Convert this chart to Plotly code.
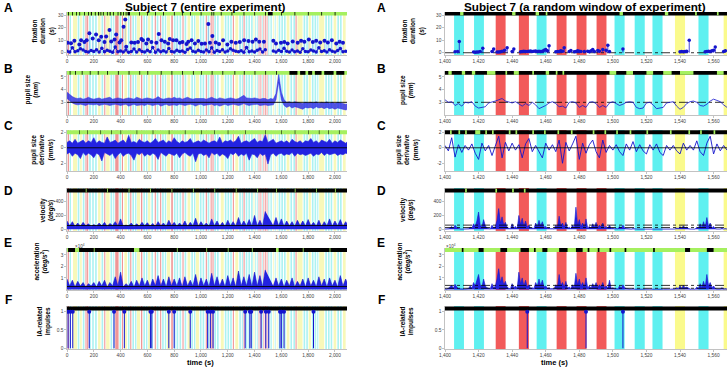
import plotly.graph_objects as go

# ---------------- data ----------------
T_L = list(range(0, 2101, 20))      # sample times, entire experiment (s)
T_R = list(range(1400, 1569, 2))    # sample times, random window (s)
T_R1 = list(range(1400, 1569))      # 1-s sample times, random window (s)

BAND_START = [5, 20, 45, 80, 98, 118, 138, 150, 165, 188, 210, 232, 258, 278, 292, 325, 345, 360, 392, 410,
              428, 455, 472, 488, 508, 522, 552, 570, 590, 605, 630, 655, 670, 695, 710, 730, 745, 778, 798, 818,
              840, 862, 878, 900, 928, 948, 962, 992, 1012, 1036, 1050, 1072, 1086, 1100, 1120, 1148, 1178, 1198, 1218, 1238,
              1256, 1286, 1305, 1318, 1334, 1354, 1374, 1392, 1405.4, 1417.3, 1430.2, 1444, 1454.6, 1466.5, 1478.4, 1490.3, 1501, 1513, 1523.6, 1537,
              1551, 1566, 1580, 1600, 1620, 1640, 1668, 1690, 1706, 1720, 1766, 1786, 1804, 1828, 1848, 1868, 1882, 1928, 1948, 1968,
              1990, 2018, 2038, 2060]
BAND_END = [15, 30, 75, 92, 110, 130, 146, 158, 178, 200, 222, 250, 270, 286, 318, 337, 353, 385, 404, 418,
            448, 466, 480, 500, 518, 545, 562, 582, 600, 622, 642, 663, 682, 703, 722, 740, 770, 790, 810, 830,
            852, 870, 890, 920, 940, 958, 985, 1004, 1024, 1044, 1062, 1080, 1094, 1112, 1132, 1170, 1190, 1210, 1230, 1246,
            1278, 1298, 1313, 1326, 1346, 1366, 1386, 1399, 1411.3, 1423.2, 1436.1, 1450, 1460.5, 1472.4, 1484.3, 1496.2, 1507, 1519, 1529.6, 1543,
            1557, 1572, 1592, 1612, 1632, 1660, 1680, 1702, 1714, 1758, 1778, 1798, 1820, 1840, 1860, 1876, 1920, 1940, 1960, 1980,
            2010, 2030, 2050, 2080]
BAND_KIND = ["r", "c", "y", "c", "y", "c", "r", "r", "c", "c", "c", "y", "c", "r", "y", "c", "c", "r", "c", "r",
             "y", "c", "r", "c", "c", "y", "r", "c", "c", "y", "c", "r", "c", "r", "c", "c", "y", "r", "c", "c",
             "c", "r", "c", "y", "c", "c", "y", "c", "c", "r", "c", "r", "r", "c", "c", "y", "c", "c", "c", "r",
             "y", "c", "c", "r", "c", "c", "c", "y", "c", "c", "r", "r", "c", "r", "r", "r", "c", "c", "c", "y",
             "c", "y", "c", "c", "c", "y", "c", "c", "r", "y", "c", "c", "y", "c", "c", "c", "y", "c", "c", "c",
             "y", "c", "c", "y"]

# A: fixation duration (s)
LA_LOW = [1.2, 0.5, 4.0, 0.8, 1.5, 3.2, 2.2, 1.0, 0.6, 1.8,
          0.9, 2.4, 0.5, 3.5, 0.7, 2.0, 1.1, 0.4, 4.5, 0.8,
          1.4, 0.5, 2.1, 0.3, 0.9, 3.0, 0.5, 2.3, 1.0, 0.6,
          1.9, 0.8, 4.2, 0.4, 2.2, 0.7, 1.5, 0.5, 3.4, 1.0,
          0.6, 2.0, 0.9, 1.4, 0.4, 2.5, 3.8, 1.2, 0.5, 1.9,
          1.0, 0.6, 2.1, 0.7, 4.0, 0.4, 1.8, 0.9, 2.3, 0.6,
          1.3, 3.2, 2.0, 1.1, 0.7, 1.6, 0.4, 4.1, 0.8, 1.4,
          0.5, 1.9, 3.0, 0.6, 2.4, None, None, 1.3, 0.6, 2.0,
          0.9, 3.6, 1.2, 0.5, 2.2, 0.8, 1.4, 0.4, 3.1, 1.0,
          0.7, 2.1, 1.3, 0.5, 4.0, 0.9, 1.6, 0.6, 2.4, 1.1,
          0.5, 1.8, 3.3, 0.8, 1.2, 0.6]
LA_HI_T = [5, 30, 55, 92, 105, 130, 147, 167, 192, 217, 237, 255, 280, 292, 317, 330, 355, 367, 392, 405,
           422, 435, 442, 480, 505, 530, 555, 567, 592, 605, 630, 667, 685, 705, 730, 755, 767, 792, 817, 842,
           862, 892, 905, 930, 955, 980, 1005, 1030, 1055, 1067, 1085, 1110, 1135, 1165, 1197, 1227, 1260, 1290, 1322, 1355,
           1385, 1410, 1435, 1470, 1540, 1560, 1597, 1622, 1647, 1685, 1722, 1747, 1772, 1805, 1835, 1860, 1890, 1922, 1947, 1977,
           2010, 2035, 2060]
LA_HI_V = [8, 7.5, 9.5, 6.6, 10, 8.5, 10, 15.4, 11.4, 14.6, 10, 12.7, 8.5, 13, 18, 9, 10.6, 14.6, 8.2, 10,
           20.7, 26.5, 4.8, 8.2, 8, 8.5, 10.9, 10, 7.4, 10.6, 8.5, 8, 14.9, 10, 8.8, 7.4, 10.9, 10, 10, 8,
           8.5, 6.9, 8.8, 10, 7.4, 9.3, 7.2, 7.4, 22.8, 8, 13.3, 8.2, 6.9, 10, 6.6, 8.8, 8, 8.5, 10, 9.3,
           8.8, 10.6, 8.8, 8.8, 9.5, 7.4, 8, 8.5, 7.4, 9, 8, 9.5, 8.8, 10.6, 8.5, 9.5, 8.2, 9.5, 8.2, 10,
           7.4, 8.8, 8]
# B: pupil size (mm), upper / lower envelope of the noisy trace
LB_HI = [3.8, 3.6, 3.45, 3.35, 3.3, 3.35, 3.25, 3.3, 3.4, 3.3,
         3.25, 3.3, 3.35, 3.25, 3.3, 3.3, 3.4, 3.25, 3.3, 3.35,
         3.3, 3.25, 3.3, 3.35, 3.3, 3.25, 3.4, 3.3, 3.25, 3.3,
         3.35, 3.3, 3.25, 3.3, 3.45, 3.3, 3.25, 3.3, 3.35, 3.3,
         3.4, 3.3, 3.35, 3.25, 3.3, 3.4, 3.3, 3.25, 3.3, 3.3,
         3.35, 3.3, 3.25, 3.3, 3.4, 3.3, 3.25, 3.35, 3.3, 3.25,
         3.3, 3.35, 3.3, 3.25, 3.3, 3.4, 3.55, 3.35, 3.3, 3.3,
         3.35, 3.3, 3.25, 3.3, 3.3, 3.2, 3.3, 3.25, 3.7, 5.2,
         3.8, 3.2, 3.0, 3.05, 2.95, 3.05, 3.0, 2.95, 2.9, 3.0,
         2.95, 3.0, 2.95, 3.05, 2.9, 3.0, 2.95, 3.05, 2.9, 3.0,
         2.9, 3.0, 2.95, 2.9, 2.85, 2.9]
LB_LO = [3.3, 3.1, 2.95, 2.85, 2.8, 2.85, 2.8, 2.75, 2.85, 2.8,
         2.8, 2.85, 2.75, 2.8, 2.85, 2.8, 2.75, 2.8, 2.85, 2.8,
         2.75, 2.8, 2.85, 2.7, 2.8, 2.85, 2.75, 2.8, 2.8, 2.75,
         2.85, 2.8, 2.75, 2.8, 2.85, 2.7, 2.8, 2.85, 2.75, 2.8,
         2.8, 2.75, 2.85, 2.8, 2.75, 2.8, 2.85, 2.8, 2.7, 2.8,
         2.85, 2.75, 2.8, 2.8, 2.85, 2.75, 2.8, 2.7, 2.8, 2.85,
         2.75, 2.8, 2.85, 2.8, 2.75, 2.8, 2.9, 2.8, 2.75, 2.8,
         2.8, 2.85, 2.75, 2.8, 2.8, 2.75, 2.8, 2.8, 3.2, 4.6,
         3.2, 2.75, 2.6, 2.7, 2.55, 2.65, 2.6, 2.5, 2.45, 2.6,
         2.55, 2.6, 2.5, 2.65, 2.55, 2.6, 2.5, 2.6, 2.5, 2.55,
         2.45, 2.55, 2.5, 2.45, 2.4, 2.45]
# C: pupil size derivative (mm/s), upper / lower envelope
LC_HI = [0.7, 0.9, 0.6, 1.1, 0.6, 0.8, 1.0, 0.6, 0.9, 0.7,
         1.3, 0.6, 0.9, 0.7, 0.6, 1.4, 0.7, 0.8, 1.0, 0.6,
         0.8, 1.0, 0.6, 1.6, 0.7, 0.8, 0.6, 1.1, 0.8, 0.7,
         0.9, 0.6, 0.8, 1.2, 0.7, 0.8, 1.0, 0.6, 0.9, 0.7,
         1.3, 0.8, 0.6, 0.9, 0.7, 0.8, 1.2, 0.6, 0.8, 0.9,
         0.7, 1.0, 0.8, 0.6, 0.8, 0.9, 0.7, 1.4, 0.6, 0.9,
         0.8, 1.0, 0.7, 0.9, 1.5, 0.6, 0.8, 0.9, 0.7, 0.9,
         1.2, 0.7, 0.9, 0.8, 1.7, 0.7, 0.9, 1.1, 0.6, 0.8,
         0.9, 0.7, 0.9, 0.6, 1.1, 0.8, 0.7, 0.9, 0.6, 0.9,
         0.8, 1.2, 0.7, 0.9, 0.6, 1.0, 0.8, 0.7, 1.1, 0.6,
         0.9, 0.7, 1.0, 0.8, 0.6, 0.9]
LC_LO = [-0.8, -0.6, -1.1, -0.7, -0.9, -1.4, -0.6, -1.0, -0.7, -0.9,
         -1.3, -0.7, -0.9, -1.7, -0.6, -0.8, -1.0, -0.7, -1.4, -0.9,
         -0.6, -1.1, -0.8, -0.7, -1.0, -1.6, -0.7, -0.9, -0.6, -1.1,
         -0.8, -1.0, -0.7, -0.9, -1.5, -0.6, -0.8, -1.1, -0.7, -0.9,
         -1.0, -0.7, -1.3, -0.8, -0.6, -0.9, -1.1, -0.7, -1.8, -0.8,
         -0.7, -1.0, -0.8, -1.3, -0.6, -0.9, -0.7, -1.1, -0.8, -1.0,
         -1.4, -0.7, -0.9, -0.6, -1.1, -0.8, -1.0, -0.7, -1.6, -0.8,
         -0.9, -1.3, -0.7, -1.0, -0.8, -2.1, -0.9, -0.7, -1.1, -0.8,
         -0.7, -1.0, -0.8, -0.9, -0.6, -1.1, -0.7, -0.9, -0.8, -1.0,
         -0.9, -0.7, -1.1, -0.8, -0.9, -0.6, -1.0, -0.7, -0.9, -0.8,
         -0.7, -1.0, -0.8, -0.9, -0.7, -0.8]
# D: velocity (deg/s)
LD = [120, 50, 110, 40, 90, 45, 100, 50, 80, 40,
      70, 45, 90, 50, 100, 40, 85, 55, 110, 50,
      150, 45, 60, 50, 90, 40, 80, 45, 100, 50,
      95, 45, 85, 40, 110, 50, 90, 45, 130, 55,
      100, 45, 90, 50, 120, 40, 100, 50, 160, 45,
      110, 50, 90, 45, 150, 50, 120, 45, 100, 40,
      130, 50, 110, 45, 170, 55, 120, 50, 140, 45,
      200, 50, 130, 45, 260, None, None, 55, 170, 50,
      150, 45, 120, 50, 110, 40, 130, 50, 120, 45,
      140, 50, 100, 45, 130, 40, 110, 50, 150, 45,
      120, 50, 140, 45, 110, 50]
# E: acceleration (x10^4 deg/s^2)
LE = [0.9, 0.3, 0.8, 0.2, 0.7, 0.3, 0.6, 0.2, 0.5, 0.3,
      0.6, 0.2, 0.7, 0.3, 0.8, 0.2, 0.6, 0.3, 1.1, 0.3,
      1.5, 0.2, 0.5, 0.3, 0.7, 0.2, 0.8, 0.3, 1.0, 0.3,
      0.8, 0.2, 0.9, 0.3, 1.2, 0.3, 0.9, 0.2, 1.1, 0.3,
      0.9, 0.3, 1.0, 0.2, 1.1, 0.3, 0.8, 0.3, 1.3, 0.2,
      1.0, 0.3, 0.9, 0.2, 1.4, 0.3, 1.1, 0.3, 0.9, 0.2,
      1.2, 0.3, 1.0, 0.2, 1.6, 0.3, 1.1, 0.3, 1.3, 0.2,
      1.5, 0.3, 1.2, 0.2, 1.7, None, None, 0.3, 1.0, 0.3,
      0.9, 0.2, 0.8, 0.3, 1.0, 0.2, 0.7, 0.3, 0.9, 0.2,
      1.0, 0.3, 0.8, 0.2, 1.1, 0.3, 0.9, 0.2, 1.0, 0.3,
      0.8, 0.2, 1.2, 0.3, 0.9, 0.3]
# F: IA-related impulse times (s)
LF_T = [8, 25, 43, 166, 351, 428, 623, 633, 760, 800, 920, 1050, 1070, 1090, 1330, 1365, 1375,
        1449, 1484, 1506, 1590, 1600, 1620, 1840]

# random window
RA_T = [1406, 1407.5, 1408.5, 1417, 1418, 1419, 1420, 1421, 1422.5, 1428,
        1429, 1431, 1432, 1433, 1434, 1435.5, 1437, 1440, 1441, 1445,
        1446, 1447, 1448, 1449, 1450, 1451, 1452, 1453, 1454, 1455,
        1456, 1457, 1458, 1459, 1460, 1461, 1462, 1466, 1467, 1468,
        1469, 1470, 1471, 1474, 1475, 1477, 1478, 1479, 1480, 1481,
        1483, 1485, 1486, 1487, 1488, 1489, 1491, 1492, 1494, 1496,
        1497, 1498, 1506, 1540, 1541, 1542, 1543, 1544, 1545.5, 1555,
        1556, 1557, 1558, 1559, 1560, 1561, 1566, 1567]
RA_V = [0.8, 1.0, 9.0, 0.5, 0.4, 0.6, 0.5, 1.0, 3.5, 1.0,
        3.0, 0.5, 0.6, 0.8, 1.2, 2.0, 4.0, 1.0, 3.0, 0.8,
        1.0, 1.2, 1.0, 0.9, 1.1, 1.3, 1.0, 1.2, 1.4, 1.0,
        1.2, 0.9, 1.1, 2.0, 2.5, 1.5, 5.5, 0.8, 1.0, 0.9,
        1.5, 1.2, 4.0, 1.0, 1.8, 0.8, 1.0, 1.5, 1.2, 0.9,
        1.0, 1.2, 0.8, 1.5, 2.5, 1.0, 1.8, 1.2, 2.5, 2.0,
        6.0, 1.0, 3.0, 0.8, 1.0, 0.7, 1.0, 1.2, 10.0, 0.8,
        1.0, 1.2, 0.9, 1.5, 2.0, 4.5, 1.0, 1.5]
RB = [3.2, 3.0, 3.05, 2.75, 2.9, 2.7, 3.0, 2.95, 3.05, 2.7,
      2.55, 2.6, 2.65, 2.95, 3.0, 3.1, 3.2, 3.3, 3.1, 3.0,
      2.95, 3.05, 2.9, 2.7, 2.9, 2.75, 3.0, 2.8, 2.5, 2.6,
      2.75, 2.95, 3.05, 2.9, 2.65, 2.7, 2.55, 3.0, 3.05, 2.95,
      2.6, 2.75, 2.6, 3.0, 3.05, 2.9, 2.6, 2.75, 2.6, 2.95,
      3.05, 2.9, 2.75, 2.85, 3.0, 3.05, 3.0, 2.6, 2.5, 2.55,
      2.95, 3.0, 2.8, 2.5, 2.55, 2.6, 2.95, 3.0, 3.05, 2.7,
      2.45, 2.6, 2.9, 3.05, 3.1, 3.0, 2.75, 2.7, 2.85, 3.1,
      3.25, 3.15, 3.05, 2.8, 2.6]
RC = [0.3, -0.4, 1.3, -1.2, 0.4, -0.6, 0.3, -0.3, 0.5, -0.7,
      -1.5, 0.6, -0.4, 0.3, -1.0, 0.4, 1.5, -1.3, 0.7, -0.4,
      0.6, -0.3, 0.4, -1.3, 0.5, 1.2, -0.5, 0.3, -0.6, -1.3,
      0.6, -0.3, 0.4, -0.5, 1.0, -2.0, 0.7, -0.4, 0.5, 1.5,
      -1.5, 0.6, -0.7, 0.4, 1.0, -0.5, -1.3, 1.0, -0.6, 0.3,
      -0.3, 0.4, -0.5, -1.0, 0.5, -0.3, 0.8, -0.5, 0.4, -0.4,
      -0.8, 0.4, -0.3, 0.5, -0.6, -1.0, 0.3, -0.3, 0.3, -0.4,
      -0.8, 0.6, -0.3, 0.3, -0.3, 0.9, -0.5, -1.0, 0.6, 1.5,
      -0.8, 0.5, -0.4, 0.3, -0.3]
RD = [5, 3, 8, 20, 40, 15, 60, 25, 10, 5,
      3, 5, 3, 5, 8, 30, 15, 80, 40, 120,
      250, 60, 30, 140, 50, 20, 10, 5, 60, 20,
      40, 130, 300, 90, 180, 60, 100, 30, 15, 8,
      80, 20, 40, 10, 200, 70, 160, 40, 120, 30,
      60, 15, 20, 10, 90, 40, 130, 50, 110, 30,
      40, 15, 20, 8, 10, 5, 60, 30, 190, 50,
      90, 30, 100, 15, 30, 10, 60, 20, 320, 60,
      140, 40, 90, 30, 150, 20, 40, 15, 80, 30,
      100, 20, 60, 30, 90, 20, 40, 15, 60, 10,
      20, 8, 10, 5, 40, 15, 60, 20, 10, 5,
      5, 3, 10, 3, 5, 3, 3, 5, 3, 5,
      3, 5, 3, 5, 3, 5, 3, 5, 3, 5,
      3, 5, 3, 5, 3, 5, 3, 5, 20, 10,
      40, 15, 50, 20, 30, 10, 5, 3, 5, 3,
      30, 10, 80, 20, 110, 30, 170, 40, 90, 20,
      40, 10, 5, 3, 5, 20, 5, 10, 5]
RE = [0.05, 0.03, 0.1, 0.2, 0.35, 0.1, 0.45, 0.2, 0.08, 0.05,
      0.03, 0.05, 0.03, 0.05, 0.08, 0.3, 0.1, 0.6, 0.3, 0.8,
      1.3, 0.4, 0.2, 0.9, 0.3, 0.15, 0.08, 0.05, 0.5, 0.15,
      0.3, 0.9, 1.8, 0.6, 1.1, 0.4, 0.7, 0.2, 0.1, 0.06,
      0.5, 0.15, 0.3, 0.08, 1.5, 0.5, 1.0, 0.3, 0.8, 0.2,
      0.4, 0.1, 0.15, 0.08, 0.6, 0.3, 0.9, 0.35, 0.8, 0.2,
      0.3, 0.1, 0.15, 0.06, 0.08, 0.04, 0.4, 0.2, 1.3, 0.35,
      0.6, 0.2, 0.7, 0.1, 0.2, 0.08, 0.4, 0.15, 1.4, 0.4,
      0.9, 0.3, 0.6, 0.2, 1.0, 0.15, 0.3, 0.1, 0.5, 0.2,
      0.6, 0.15, 0.4, 0.2, 0.6, 0.15, 0.3, 0.1, 0.8, 0.08,
      0.15, 0.06, 0.08, 0.04, 0.3, 0.1, 0.4, 0.15, 0.08, 0.04,
      0.04, 0.02, 0.08, 0.02, 0.04, 0.02, 0.02, 0.04, 0.02, 0.04,
      0.02, 0.04, 0.02, 0.04, 0.02, 0.04, 0.02, 0.04, 0.02, 0.04,
      0.02, 0.04, 0.02, 0.04, 0.02, 0.04, 0.02, 0.04, 0.15, 0.08,
      0.3, 0.1, 0.35, 0.15, 0.2, 0.08, 0.04, 0.02, 0.04, 0.02,
      0.2, 0.08, 0.5, 0.15, 0.7, 0.2, 1.3, 0.3, 0.6, 0.15,
      0.3, 0.08, 0.04, 0.02, 0.04, 0.15, 0.04, 0.08, 0.04]
RF_T = [1449, 1484, 1506]

# top status strips: base colour + segments of the other colour
STRIP_L = [
    ("g", [[8, 14], [38, 44], [68, 74], [92, 98], [128, 134], [158, 164], [178, 186], [208, 214], [232, 240], [250, 256],
           [268, 274], [298, 304], [318, 326], [343, 349], [378, 384], [398, 406], [418, 424], [438, 444], [452, 470], [538, 544],
           [598, 604], [658, 664], [718, 724], [798, 804], [858, 864], [918, 924], [998, 1004], [1078, 1084], [1093, 1099], [1148, 1154],
           [1228, 1234], [1318, 1324], [1398, 1404], [1478, 1484], [1500, 1535], [1598, 1604], [1698, 1704], [1798, 1804], [1898, 1904], [1998, 2004]]),
    ("g", [[20, 26], [60, 66], [110, 116], [170, 176], [230, 236], [300, 306], [380, 386], [460, 466], [540, 546], [600, 606],
           [700, 706], [780, 786], [860, 866], [940, 946], [1000, 1006], [1080, 1086], [1160, 1166], [1250, 1256], [1320, 1326], [1400, 1406],
           [1480, 1486], [1560, 1566], [1660, 1720], [1740, 1780], [1800, 1830], [1850, 1900], [1920, 1990], [2010, 2070]]),
    ("g", [[90, 94], [150, 154], [250, 254], [330, 334], [400, 404], [520, 524], [640, 644], [760, 764], [880, 884], [1000, 1004],
           [1100, 1104], [1200, 1204], [1330, 1334], [1480, 1484], [1600, 1604], [1700, 1704], [1800, 1804], [1880, 1884], [1950, 1954], [2030, 2034]]),
    ("k", [[140, 146], [300, 306], [460, 466], [620, 626], [780, 786], [940, 946], [1100, 1106], [1260, 1266], [1420, 1426], [1560, 1566],
           [1700, 1706], [1860, 1866], [2000, 2006]]),
    ("k", [[0, 8], [60, 90], [200, 206], [500, 540], [820, 826], [1040, 1046], [1200, 1206], [1380, 1386], [1560, 1580], [1760, 1766], [1960, 1966]]),
    ("k", []),
]
STRIP_R = [
    ("k", [[1409, 1411], [1440, 1442], [1454, 1456], [1460, 1461], [1504, 1506], [1531, 1533], [1549, 1550], [1562, 1563]]),
    ("k", [[1402, 1404], [1410, 1412], [1416, 1418], [1425, 1430], [1436, 1437], [1441, 1444], [1452, 1453], [1460, 1462], [1466, 1467], [1470, 1471],
           [1498, 1502], [1508, 1512], [1520, 1524], [1530, 1535], [1540, 1548], [1562, 1566]]),
    ("k", [[1403, 1404], [1408, 1409], [1412, 1413], [1418, 1421], [1424, 1425], [1428, 1429], [1438, 1439], [1442, 1443], [1452, 1453], [1459, 1460],
           [1467, 1468], [1475, 1476], [1488, 1489], [1495, 1496], [1502, 1503], [1510, 1511], [1520, 1521], [1534, 1535], [1545, 1546], [1552, 1553], [1560, 1561]]),
    ("k", [[1412, 1413], [1430, 1431], [1440, 1441], [1447, 1448]]),
    ("g", [[1410, 1411], [1420, 1423], [1433, 1437], [1445, 1450], [1453, 1454], [1458, 1461], [1468, 1473], [1478, 1482], [1485, 1486], [1491, 1492],
           [1498, 1499], [1507, 1508], [1524, 1525], [1543, 1546], [1556, 1560]]),
    ("k", []),
]
THRESH_L = [[], [3.0], [0.0], [55], [0.25], []]
THRESH_R = [[0.0], [3.0], [0.0], [60, 25], [0.35, 0.1], []]

LETTERS = ["A", "B", "C", "D", "E", "F"]
YTITLES = ["fixation<br>duration<br>(<i>s</i>)", "pupil size<br>(<i>mm</i>)",
           "pupil size<br>derivative<br>(<i>mm/s</i>)", "velocity<br>(<i>deg/s</i>)",
           "acceleration<br>(<i>deg/s</i><sup>2</sup>)", "IA-related<br>impulses"]
Y_TICKS = [[0, 10, 20, 30], [3, 4, 5], [-2, 0, 2], [0, 200, 400], [1, 2, 3], [0, 0.5, 1]]
Y_TICKTEXT_L = [None, None, ["2", "0", "2"], None, None, ["0", "0.5", "1"]]
Y_TICKTEXT_R = [None, None, ["-2", "0", "2"], None, None, ["0", "0.5", "1"]]
X_TICKS_L = [0, 200, 400, 600, 800, 1000, 1200, 1400, 1600, 1800, 2000]
X_TICKS_R = [1400, 1420, 1440, 1460, 1480, 1500, 1520, 1540, 1560]
TITLE_L = "Subject 7 (entire experiment)"
TITLE_R = "Subject 7 (a random window of experiment)"

# ---------------- layout geometry / styles ----------------
W, H = 728, 369
X_PX = {"L": (67, 347), "R": (445, 727)}
Y_PX = [(12, 55), (71, 115), (130, 171), (188, 231), (248, 290), (306, 349)]
X_RANGE = {"L": [0, 2090], "R": [1400, 1568]}
Y_RANGE = [[-1.8, 32.4], [2.0, 5.47], [-3.0, 2.3], [-25, 598], [-0.05, 3.6], [-0.02, 1.156]]
STRIP_Y = [31.3, 5.33, 2.02, 560, 3.43, 1.09]
BAND_COL = {"L": {"c": "rgb(172,242,242)", "y": "rgb(248,248,185)", "r": "rgb(240,150,150)"},
            "R": {"c": "rgb(95,240,240)", "y": "rgb(250,250,140)", "r": "rgb(242,90,90)"}}
STRIP_COL = {"g": "rgb(165,240,95)", "k": "black"}
BLUE = "rgb(20,20,205)"
BLUE_FILL = "rgb(35,35,225)"
BLUE_BAND = "rgba(40,40,228,0.8)"
FONT = "Liberation Sans, Arial, sans-serif"

fig = go.Figure()
layout = {}


def ids(row, side):
    n = row * 2 + (2 if side == "R" else 1)
    return ("x" if n == 1 else f"x{n}"), ("y" if n == 1 else f"y{n}"), ("" if n == 1 else str(n))


def add(tr, xa, ya):
    tr.update(xaxis=xa, yaxis=ya, showlegend=False, hoverinfo="skip")
    fig.add_trace(tr)


for row in range(6):
    for side in ("L", "R"):
        xa, ya, sfx = ids(row, side)
        xr = X_RANGE[side]
        yr = Y_RANGE[row]
        # background bands
        for kind in ("c", "y", "r"):
            xs, ws = [], []
            for s, e, k in zip(BAND_START, BAND_END, BAND_KIND):
                if k == kind and e > xr[0] and s < xr[1]:
                    xs.append((s + e) / 2)
                    ws.append(e - s)
            if xs:
                add(go.Bar(x=xs, width=ws, y=[yr[1] - yr[0]] * len(xs), base=[yr[0]] * len(xs),
                           marker=dict(color=BAND_COL[side][kind], line=dict(width=0))), xa, ya)
        # top strip
        base, segs = (STRIP_L if side == "L" else STRIP_R)[row]
        other = "k" if base == "g" else "g"
        lvl = STRIP_Y[row]
        add(go.Scatter(x=xr, y=[lvl, lvl], mode="lines", line=dict(color=STRIP_COL[base], width=4)), xa, ya)
        if segs:
            sx, sy = [], []
            for s, e in segs:
                sx += [s, e, None]
                sy += [lvl, lvl, None]
            add(go.Scatter(x=sx, y=sy, mode="lines", line=dict(color=STRIP_COL[other], width=4)), xa, ya)

        # axes
        layout[f"xaxis{sfx}"] = dict(domain=[X_PX[side][0] / W, X_PX[side][1] / W], range=xr, anchor=ya,
                                     tickvals=X_TICKS_L if side == "L" else X_TICKS_R, tickformat=",d",
                                     showline=True, linecolor="#9a9a9a", linewidth=0.6, ticks="outside",
                                     ticklen=2, tickwidth=0.6, tickcolor="#9a9a9a", showgrid=False, zeroline=False,
                                     automargin=False, tickfont=dict(size=4.8, color="#444", family=FONT))
        ytt = (Y_TICKTEXT_L if side == "L" else Y_TICKTEXT_R)[row]
        yd = dict(domain=[1 - Y_PX[row][1] / H, 1 - Y_PX[row][0] / H], range=yr, anchor=xa,
                  tickvals=Y_TICKS[row], showline=True, linecolor="#9a9a9a", linewidth=0.6,
                  ticks="outside", ticklen=2, tickwidth=0.6, tickcolor="#9a9a9a", showgrid=False,
                  zeroline=False, automargin=False, tickfont=dict(size=4.8, color="#444", family=FONT))
        if ytt:
            yd["ticktext"] = ytt
        layout[f"yaxis{sfx}"] = yd


# ---------------- data traces ----------------
def thresholds(row, side):
    xa, ya, _ = ids(row, side)
    xr = X_RANGE[side]
    vals = (THRESH_L if side == "L" else THRESH_R)[row]
    for v in vals:
        add(go.Scatter(x=xr, y=[v, v], mode="lines",
                       line=dict(color="black", width=0.9 if side == "L" else 0.8,
                                 dash="solid" if side == "L" or row == 2 else "dashdot")), xa, ya)


def stems(ts, vs):
    sx, sy = [], []
    for t, v in zip(ts, vs):
        sx += [t, t, None]
        sy += [0, v, None]
    return sx, sy


# A
xa, ya, _ = ids(0, "L")
sx, sy = stems(LA_HI_T, LA_HI_V)
add(go.Scatter(x=sx, y=sy, mode="lines", line=dict(color="rgba(40,40,210,0.45)", width=0.5)), xa, ya)
add(go.Scatter(x=T_L, y=LA_LOW, mode="lines+markers", line=dict(color=BLUE, width=1),
               marker=dict(color=BLUE, size=3.5)), xa, ya)
add(go.Scatter(x=LA_HI_T, y=LA_HI_V, mode="markers", marker=dict(color=BLUE, size=4)), xa, ya)
xa, ya, _ = ids(0, "R")
thresholds(0, "R")
sx, sy = stems(RA_T, RA_V)
add(go.Scatter(x=sx, y=sy, mode="lines", line=dict(color=BLUE, width=0.8)), xa, ya)
add(go.Scatter(x=RA_T, y=RA_V, mode="markers", marker=dict(color=BLUE, size=3.5)), xa, ya)

# B
xa, ya, _ = ids(1, "L")
add(go.Scatter(x=T_L, y=LB_LO, mode="lines", line=dict(color=BLUE_BAND, width=0.6)), xa, ya)
add(go.Scatter(x=T_L, y=LB_HI, mode="lines", fill="tonexty", fillcolor=BLUE_BAND,
               line=dict(color=BLUE_BAND, width=0.6)), xa, ya)
thresholds(1, "L")
xa, ya, _ = ids(1, "R")
thresholds(1, "R")
add(go.Scatter(x=T_R, y=RB, mode="lines", line=dict(color=BLUE, width=0.8)), xa, ya)

# C
xa, ya, _ = ids(2, "L")
add(go.Scatter(x=T_L, y=LC_LO, mode="lines", line=dict(color=BLUE_FILL, width=0.6)), xa, ya)
add(go.Scatter(x=T_L, y=LC_HI, mode="lines", fill="tonexty", fillcolor=BLUE_FILL,
               line=dict(color=BLUE_FILL, width=0.6)), xa, ya)
thresholds(2, "L")
xa, ya, _ = ids(2, "R")
add(go.Scatter(x=T_R, y=RC, mode="lines", line=dict(color=BLUE, width=0.9)), xa, ya)
thresholds(2, "R")

# D
xa, ya, _ = ids(3, "L")
add(go.Scatter(x=T_L, y=LD, mode="lines", fill="tozeroy", fillcolor=BLUE_FILL,
               line=dict(color=BLUE, width=0.6)), xa, ya)
thresholds(3, "L")
xa, ya, _ = ids(3, "R")
add(go.Scatter(x=T_R1, y=RD, mode="lines", fill="tozeroy", fillcolor=BLUE_FILL,
               line=dict(color=BLUE, width=0.6)), xa, ya)
thresholds(3, "R")

# E
xa, ya, _ = ids(4, "L")
add(go.Scatter(x=T_L, y=LE, mode="lines", fill="tozeroy", fillcolor=BLUE_FILL,
               line=dict(color=BLUE, width=0.6)), xa, ya)
thresholds(4, "L")
xa, ya, _ = ids(4, "R")
add(go.Scatter(x=T_R1, y=RE, mode="lines", fill="tozeroy", fillcolor=BLUE_FILL,
               line=dict(color=BLUE, width=0.6)), xa, ya)
thresholds(4, "R")

# F
for side, ts in (("L", LF_T), ("R", RF_T)):
    xa, ya, _ = ids(5, side)
    sx, sy = stems(ts, [1] * len(ts))
    add(go.Scatter(x=sx, y=sy, mode="lines", line=dict(color=BLUE, width=1)), xa, ya)
    add(go.Scatter(x=ts, y=[1] * len(ts), mode="markers", marker=dict(color=BLUE, size=4)), xa, ya)

# ---------------- annotations ----------------
ann = []


def text(x, y, s, size, bold=True, angle=0, color="black"):
    ann.append(dict(x=x / W, y=1 - y / H, xref="paper", yref="paper", text=f"<b>{s}</b>" if bold else s,
                    showarrow=False, textangle=angle, xanchor="center", yanchor="middle",
                    font=dict(size=size, family=FONT, color=color)))


text(205, 7, TITLE_L, 11.7)
text(585, 7, TITLE_R, 11.7)
LET_Y = [8, 69, 126, 191, 243, 300]
YT_L = [(43, 31), (31.5, 90), (42, 150), (46.5, 210), (40.5, 262), (43.5, 322)]
YT_R = [(413, 31), (407, 90), (407, 150), (407, 210), (403.5, 262), (406.5, 322)]
for i in range(6):
    text(8, LET_Y[i], LETTERS[i], 12)
    text(381, LET_Y[i], LETTERS[i], 12)
    text(YT_L[i][0], YT_L[i][1], YTITLES[i], 6.5, angle=-90)
    text(YT_R[i][0], YT_R[i][1], YTITLES[i], 6.5, angle=-90)
text(200, 362, "time (s)", 7.5)
text(554, 362, "time (s)", 7.5)
text(80, 246, "×10<sup>4</sup>", 4.5, bold=False, color="#444")
text(451, 246, "×10<sup>4</sup>", 4.5, bold=False, color="#444")

fig.update_layout(template="none", width=W, height=H, margin=dict(l=0, r=0, t=0, b=0), barmode="overlay",
                  plot_bgcolor="white", paper_bgcolor="white", showlegend=False,
                  annotations=ann, font=dict(family=FONT), **layout)
fig.write_html("out.html", config={"displayModeBar": False, "staticPlot": True},
               post_script="document.body.style.margin='0px';document.body.style.overflow='hidden';")
